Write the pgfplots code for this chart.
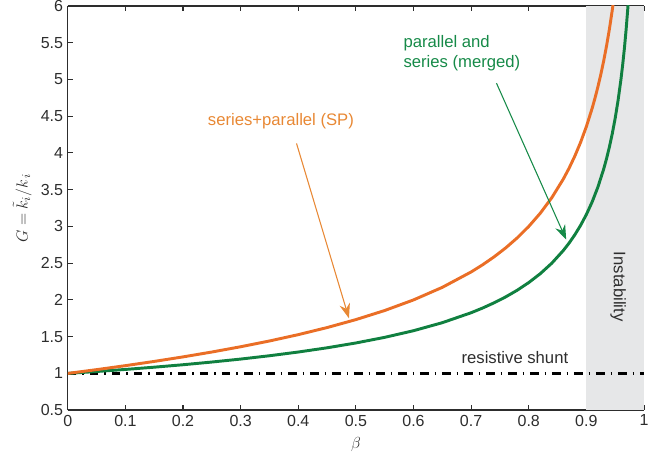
\documentclass[border=0pt]{standalone}
\usepackage{fontspec}
\setmainfont{Liberation Sans}
\usepackage{pgfplots}
\pgfplotsset{compat=1.18}
\usetikzlibrary{arrows.meta}

\definecolor{curveorange}{RGB}{234,110,38}
\definecolor{textorange}{RGB}{232,136,52}
\definecolor{curvegreen}{RGB}{16,128,64}
\definecolor{textgreen}{RGB}{22,138,72}
\definecolor{instgray}{RGB}{230,231,232}
\definecolor{axisgray}{RGB}{45,45,45}

\begin{document}
\begin{tikzpicture}
\begin{axis}[
    scale only axis,
    width=432pt, height=303pt,
    xmin=0, xmax=1, ymin=0.5, ymax=6,
    axis y line*=left,
    axis line style={axisgray, line width=1pt},
    tick style={axisgray, line width=0.8pt},
    major tick length=4pt,
    tick align=inside,
    xtick={0,0.1,0.2,0.3,0.4,0.5,0.6,0.7,0.8,0.9,1},
    xticklabels={0,0.1,0.2,0.3,0.4,0.5,0.6,0.7,0.8,0.9,1},
    ytick={0.5,1,1.5,2,2.5,3,3.5,4,4.5,5,5.5,6},
    yticklabels={0.5,1,1.5,2,2.5,3,3.5,4,4.5,5,5.5,6},
    ticklabel style={font=\fontsize{12}{14}\selectfont, text=axisgray},
    xlabel={$\beta$},
    ylabel={$G=\tilde{k}_i/k_{\,i}$},
    label style={font=\fontsize{12.5}{14}\selectfont, text=axisgray},
    xlabel style={at={(axis description cs:0.5,-0.086)}, anchor=center},
    ylabel style={at={(axis description cs:-0.079,0.5)}, anchor=center},
    clip=true,
]
% instability region
\addplot[fill=instgray, draw=none] coordinates {(0.9,6) (1,6)} \closedcycle;

% resistive shunt
\addplot[black, line width=1.9pt, dash pattern=on 6.5pt off 4.5pt on 1pt off 4.5pt]
  coordinates {(0,1) (1,1)};

% parallel and series (merged)
\addplot[curvegreen, line width=2.2pt, line join=round] coordinates {
(0,1) (0.05,1.0260) (0.1,1.0541) (0.15,1.0847) (0.2,1.1180) (0.25,1.1547)
(0.3,1.1952) (0.35,1.2403) (0.4,1.2910) (0.45,1.3484) (0.5,1.4142)
(0.55,1.4907) (0.6,1.5811) (0.65,1.6903) (0.7,1.8257) (0.72,1.8898)
(0.74,1.9612) (0.76,2.0412) (0.78,2.1320) (0.80,2.2361) (0.82,2.3570)
(0.84,2.5000) (0.86,2.6726) (0.87,2.7735) (0.88,2.8868) (0.89,3.0151)
(0.90,3.1623) (0.91,3.3333) (0.92,3.5355) (0.93,3.7796) (0.935,3.9223)
(0.94,4.0825) (0.945,4.2640) (0.95,4.4721) (0.955,4.7140) (0.96,5.0000)
(0.963,5.1988) (0.966,5.4233) (0.969,5.6796) (0.972,5.9761) (0.973,6.0858)
};

% series+parallel (SP)
\addplot[curveorange, line width=2.2pt, line join=round] coordinates {
(0,1) (0.05,1.0513) (0.1,1.1055) (0.15,1.1632) (0.2,1.2247) (0.25,1.2910)
(0.3,1.3628) (0.35,1.4412) (0.4,1.5275) (0.45,1.6237) (0.5,1.7321)
(0.55,1.8559) (0.6,2.0000) (0.65,2.1712) (0.7,2.3805) (0.72,2.4785)
(0.74,2.5869) (0.76,2.7080) (0.78,2.8445) (0.80,3.0000) (0.82,3.1798)
(0.84,3.3912) (0.86,3.6450) (0.87,3.7928) (0.88,3.9581) (0.89,4.1451)
(0.90,4.3589) (0.91,4.6068) (0.915,4.7465) (0.92,4.8990) (0.925,5.0662)
(0.93,5.2509) (0.935,5.4562) (0.94,5.6862) (0.945,5.9467) (0.947,6.0610)
};

% annotations
\node[textorange, font=\fontsize{12.5}{14}\selectfont] at (axis cs:0.370,4.43) {series+parallel (SP)};
\draw[textorange, line width=0.8pt, -{Stealth[length=11pt, width=8pt]}]
  (axis cs:0.397,4.13) -- (axis cs:0.488,1.75);

\node[textgreen, font=\fontsize{12.5}{15}\selectfont, align=left] at (axis cs:0.684,5.36)
  {parallel and\\series (merged)};
\draw[textgreen, line width=0.8pt, -{Stealth[length=11pt, width=8pt]}]
  (axis cs:0.744,4.95) -- (axis cs:0.865,2.82);

\node[axisgray, font=\fontsize{12.5}{14}\selectfont] at (axis cs:0.776,1.22) {resistive shunt};
\node[axisgray, font=\fontsize{12.5}{14}\selectfont, rotate=-90] at (axis cs:0.955,2.18) {Instability};

\coordinate (ll) at (rel axis cs:0,0);
\coordinate (ur) at (rel axis cs:1,1);
\end{axis}
\pgfresetboundingbox
\path[use as bounding box] ([shift={(-50.8pt,-36pt)}]ll) rectangle ([shift={(13.5pt,4.5pt)}]ur);
\end{tikzpicture}
\end{document}
